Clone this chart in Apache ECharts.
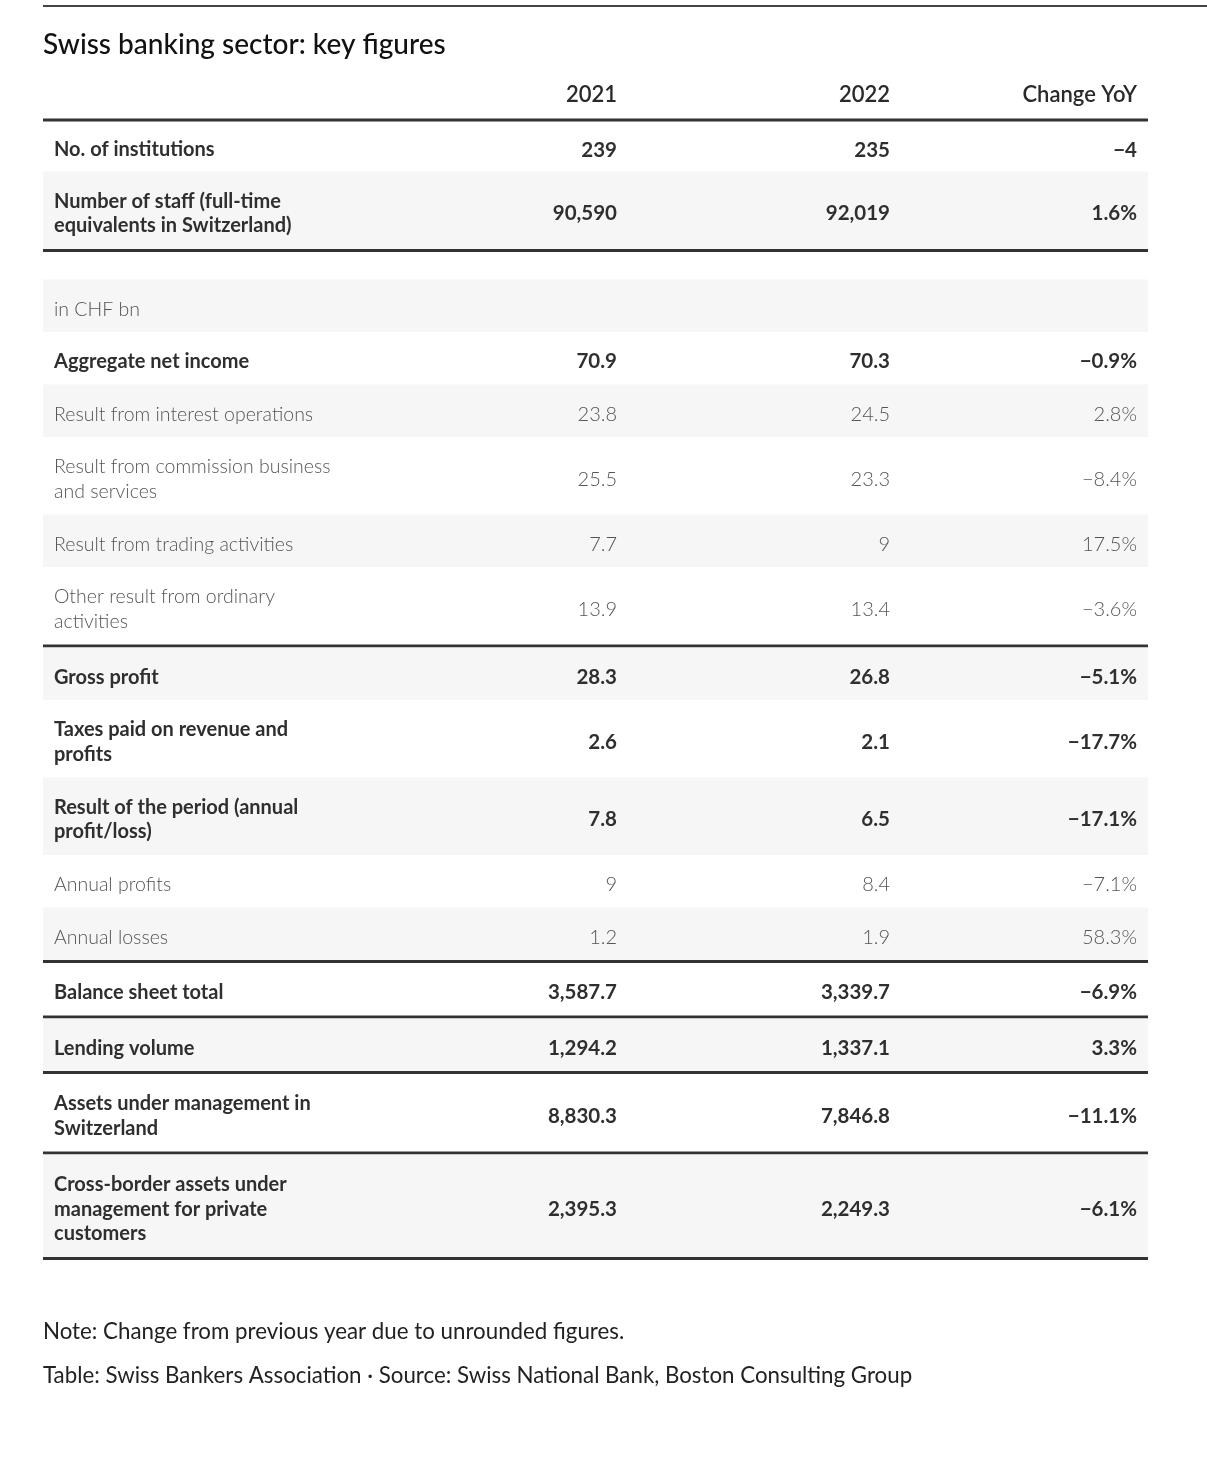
<!DOCTYPE html>
<html>
<head>
<meta charset="utf-8">
<script src="https://cdn.jsdelivr.net/npm/echarts@6/dist/echarts.min.js"></script>
<style>
  html, body { margin: 0; padding: 0; background: #ffffff; }
  #chart { width: 1207px; height: 1466px; }
</style>
</head>
<body>
<div id="chart"></div>
<script>
// ---------------- DATA ----------------
const TITLE = "Swiss banking sector: key figures";
const COLUMN_HEADERS = ["2021", "2022", "Change YoY"];
const ROW_LABELS = [
  "No. of institutions",
  "Number of staff (full-time\nequivalents in Switzerland)",
  "",
  "in CHF bn",
  "Aggregate net income",
  "Result from interest operations",
  "Result from commission business\nand services",
  "Result from trading activities",
  "Other result from ordinary\nactivities",
  "Gross profit",
  "Taxes paid on revenue and\nprofits",
  "Result of the period (annual\nprofit/loss)",
  "Annual profits",
  "Annual losses",
  "Balance sheet total",
  "Lending volume",
  "Assets under management in\nSwitzerland",
  "Cross-border assets under\nmanagement for private\ncustomers"
];
const VALUES_2021 = [239, 90590, null, null, 70.9, 23.8, 25.5, 7.7, 13.9, 28.3, 2.6, 7.8, 9, 1.2, 3587.7, 1294.2, 8830.3, 2395.3];
const VALUES_2022 = [235, 92019, null, null, 70.3, 24.5, 23.3, 9, 13.4, 26.8, 2.1, 6.5, 8.4, 1.9, 3339.7, 1337.1, 7846.8, 2249.3];
const CHANGE_YOY  = [-4, 1.6, null, null, -0.9, 2.8, -8.4, 17.5, -3.6, -5.1, -17.7, -17.1, -7.1, 58.3, -6.9, 3.3, -11.1, -6.1];
const ABSOLUTE_CHANGE_ROWS = [0];          // change shown as absolute number, not percent
const NOTE = "Note: Change from previous year due to unrounded figures.";
const SOURCE = "Table: Swiss Bankers Association \u00b7 Source: Swiss National Bank, Boston Consulting Group";

// ---------------- STYLE / LAYOUT ----------------
const BOLD_ROWS = [0, 1, 4, 9, 10, 11, 14, 15, 16, 17];
const SPACER_ROWS = [2];
const RULE_AFTER_ROWS = [1, 8, 13, 14, 15, 16, 17];
const W = 1207, H = 1466;
const TABLE_LEFT = 43, TABLE_RIGHT = 1148;
const LABEL_X = 54;
const COL_RIGHT = [617, 890, 1137];
const HEADER_Y = 95;
const HEADER_RULE_TOP = 118.5;
const RULE_H = 3;
const ROW_BASE_H = 52.5, LINE_EXTRA_H = 25, SPACER_H = 27.5, FIRST_ROW_TRIM = 2.5;
const TEXT_DY = 3.5;
const FONT = "Lato, 'Noto Sans', sans-serif";
const STRIPE = '#f6f6f6';
const RULE_COLOR = '#333333';
const BOLD_COLOR = '#2f2f2f';
const LIGHT_COLOR = '#555555';

// compute row layout (in axis units, which map 1:1 to pixels)
const ROW_TOP = [], ROW_H = [];
let cursor = HEADER_RULE_TOP + RULE_H;
ROW_LABELS.forEach((lab, i) => {
  const lines = lab.split('\n').length;
  let h = SPACER_ROWS.includes(i) ? SPACER_H : ROW_BASE_H + (lines - 1) * LINE_EXTRA_H;
  if (i === 0) h -= FIRST_ROW_TRIM;
  ROW_TOP.push(cursor);
  ROW_H.push(h);
  cursor += h;
  if (RULE_AFTER_ROWS.includes(i)) cursor += RULE_H;
});

const MINUS = '\u2212';
function fmtNum(v) {
  if (v === null || v === undefined) return '';
  const s = Math.abs(v).toLocaleString('en-US', { maximumFractionDigits: 1 });
  return (v < 0 ? MINUS : '') + s;
}
function fmtChange(v, i) {
  if (v === null || v === undefined) return '';
  const abs = ABSOLUTE_CHANGE_ROWS.includes(i);
  const s = Math.abs(v).toLocaleString('en-US', { minimumFractionDigits: abs ? 0 : 1, maximumFractionDigits: 1 });
  return (v < 0 ? MINUS : '') + s + (abs ? '' : '%');
}

function renderRow(params, api) {
  const i = api.value(0);
  const top = ROW_TOP[i], h = ROW_H[i];
  const p0 = api.coord([TABLE_LEFT, top]);
  const p1 = api.coord([TABLE_RIGHT, top + h]);
  const children = [];
  if (i % 2 === 1) {
    children.push({ type: 'rect', shape: { x: p0[0], y: p0[1], width: p1[0] - p0[0], height: p1[1] - p0[1] }, style: { fill: STRIPE } });
  }
  const cy = api.coord([0, top + h / 2 + TEXT_DY])[1];
  const bold = BOLD_ROWS.includes(i);
  const weight = bold ? 700 : 300;
  const color = bold ? BOLD_COLOR : LIGHT_COLOR;
  const size = bold ? 20 : 19.5;
  children.push({
    type: 'text', x: api.coord([LABEL_X, 0])[0], y: cy,
    style: { text: ROW_LABELS[i], fontFamily: FONT, fontSize: size, fontWeight: weight, lineHeight: 24.5, fill: color, align: 'left', verticalAlign: 'middle' }
  });
  const cells = [fmtNum(VALUES_2021[i]), fmtNum(VALUES_2022[i]), fmtChange(CHANGE_YOY[i], i)];
  cells.forEach((t, j) => {
    children.push({
      type: 'text', x: api.coord([COL_RIGHT[j], 0])[0], y: cy,
      style: { text: t, fontFamily: FONT, fontSize: bold ? 20.5 : 20, fontWeight: weight, fill: color, align: 'right', verticalAlign: 'middle' }
    });
  });
  if (RULE_AFTER_ROWS.includes(i)) {
    const r0 = api.coord([TABLE_LEFT, top + h]);
    const r1 = api.coord([TABLE_RIGHT, top + h + RULE_H]);
    children.push({ type: 'rect', shape: { x: r0[0], y: r0[1], width: r1[0] - r0[0], height: r1[1] - r0[1] }, style: { fill: RULE_COLOR } });
  }
  return { type: 'group', children };
}

function renderHeader(params, api) {
  const children = [];
  const cy = api.coord([0, HEADER_Y])[1];
  COLUMN_HEADERS.forEach((t, j) => {
    children.push({
      type: 'text', x: api.coord([COL_RIGHT[j], 0])[0], y: cy,
      style: { text: t, fontFamily: FONT, fontSize: 22, fontWeight: 600, fill: '#2a2a2a', align: 'right', verticalAlign: 'middle' }
    });
  });
  const r0 = api.coord([TABLE_LEFT, HEADER_RULE_TOP]);
  const r1 = api.coord([TABLE_RIGHT, HEADER_RULE_TOP + RULE_H]);
  children.push({ type: 'rect', shape: { x: r0[0], y: r0[1], width: r1[0] - r0[0], height: r1[1] - r0[1] }, style: { fill: RULE_COLOR } });
  return { type: 'group', children };
}

const chart = echarts.init(document.getElementById('chart'), null, { renderer: 'canvas', width: W, height: H });
chart.setOption({
  backgroundColor: '#ffffff',
  animation: false,
  grid: { left: 0, right: 0, top: 0, bottom: 0 },
  xAxis: { type: 'value', min: 0, max: W, show: false },
  yAxis: { type: 'value', min: 0, max: H, inverse: true, show: false },
  graphic: [
    { type: 'rect', shape: { x: TABLE_LEFT, y: 5, width: W - TABLE_LEFT, height: 2 }, style: { fill: '#444444' } },
    { type: 'text', x: TABLE_LEFT, y: 45, style: { text: TITLE, fontFamily: FONT, fontSize: 28, fontWeight: 500, fill: '#111111', verticalAlign: 'middle' } },
    { type: 'text', x: TABLE_LEFT, y: 1332, style: { text: NOTE, fontFamily: FONT, fontSize: 22.3, fontWeight: 400, fill: '#222222', verticalAlign: 'middle' } },
    { type: 'text', x: TABLE_LEFT, y: 1376, style: { text: SOURCE, fontFamily: FONT, fontSize: 22.3, fontWeight: 400, fill: '#222222', verticalAlign: 'middle' } }
  ],
  series: [
    {
      type: 'custom', name: 'rows', coordinateSystem: 'cartesian2d',
      renderItem: renderRow,
      data: ROW_LABELS.map((l, i) => [i]),
      encode: { x: 0, y: 0 },
      silent: true
    },
    {
      type: 'custom', name: 'header', coordinateSystem: 'cartesian2d',
      renderItem: renderHeader,
      data: [[0]],
      encode: { x: 0, y: 0 },
      silent: true
    }
  ]
});
</script>
</body>
</html>
